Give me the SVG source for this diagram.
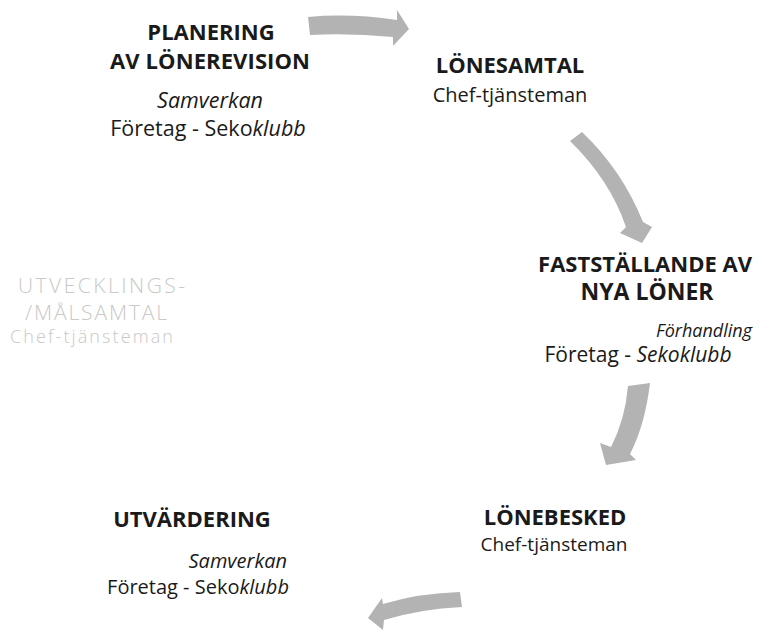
<svg xmlns="http://www.w3.org/2000/svg" width="759" height="630" viewBox="0 0 759 630">
<style>
text{font-family:"Open Sans","Noto Sans","Liberation Sans",sans-serif;fill:#1a1a1a}
.t{font-weight:700;font-size:22px}
.s{font-size:20px}
.i{font-style:italic}
.faint{fill:#c9c9c9;font-weight:300;font-size:21px}
.faint2{fill:#c9c9c9;font-weight:300;font-size:18px}
.arr{fill:#b3b3b3}
</style>
<rect width="759" height="630" fill="#fff"/>
<g id="connectors">
<path class="arr" d="M308,17 Q350,13 397,20 L397,10 L409,29 L393,46 L393,37 Q350,33 310,35 Z"/>
<path class="arr" d="M570,141 L582,132 Q622,170 643,222 L652,227 L642,243 L620,233 L626,227 Q610,180 570,141 Z"/>
<path class="arr" d="M628,386 L650,383 Q645,425 630,454 L636,460 L606,465 L600,443 L611,447 Q625,420 628,386 Z"/>
<path class="arr" d="M460,592 L462,607 Q420,609 384,620 L383,630 L368,618 L382,598 L383,604 Q420,593 460,592 Z"/>
</g>
<g id="planering">
<text class="t" x="211" y="40" text-anchor="middle">PLANERING</text>
<text class="t" x="210" y="69" text-anchor="middle" textLength="200">AV LÖNEREVISION</text>
<text class="s i" x="210" y="108" text-anchor="middle" style="font-size:21.5px">Samverkan</text>
<text class="s" x="208" y="136" text-anchor="middle" style="font-size:21.5px">Företag - Seko<tspan class="i">klubb</tspan></text>
</g>
<g id="lonesamtal">
<text class="t" x="510" y="73" text-anchor="middle">LÖNESAMTAL</text>
<text class="s" x="510" y="102" text-anchor="middle">Chef-tjänsteman</text>
</g>
<g id="faststallande">
<text class="t" x="645" y="272" text-anchor="middle">FASTSTÄLLANDE AV</text>
<text class="t" x="647" y="300" text-anchor="middle" style="font-size:23px">NYA LÖNER</text>
<text class="s i" x="752" y="337" text-anchor="end" style="font-size:18px">Förhandling</text>
<text class="s" x="638" y="362" text-anchor="middle" style="font-size:21px">Företag - <tspan class="i">Sekoklubb</tspan></text>
</g>
<g id="utvecklings">
<text class="faint" x="18" y="293" textLength="167">UTVECKLINGS-</text>
<text class="faint" x="25" y="320" textLength="142">/MÅLSAMTAL</text>
<text class="faint2" x="10" y="343" textLength="163">Chef-tjänsteman</text>
</g>
<g id="utvardering">
<text class="t" x="192" y="527" text-anchor="middle">UTVÄRDERING</text>
<text class="s i" x="287" y="568" text-anchor="end">Samverkan</text>
<text class="s" x="198" y="594" text-anchor="middle">Företag - Seko<tspan class="i">klubb</tspan></text>
</g>
<g id="lonebesked">
<text class="t" x="555" y="525" text-anchor="middle">LÖNEBESKED</text>
<text class="s" x="554" y="551" text-anchor="middle" style="font-size:19px">Chef-tjänsteman</text>
</g>
</svg>
